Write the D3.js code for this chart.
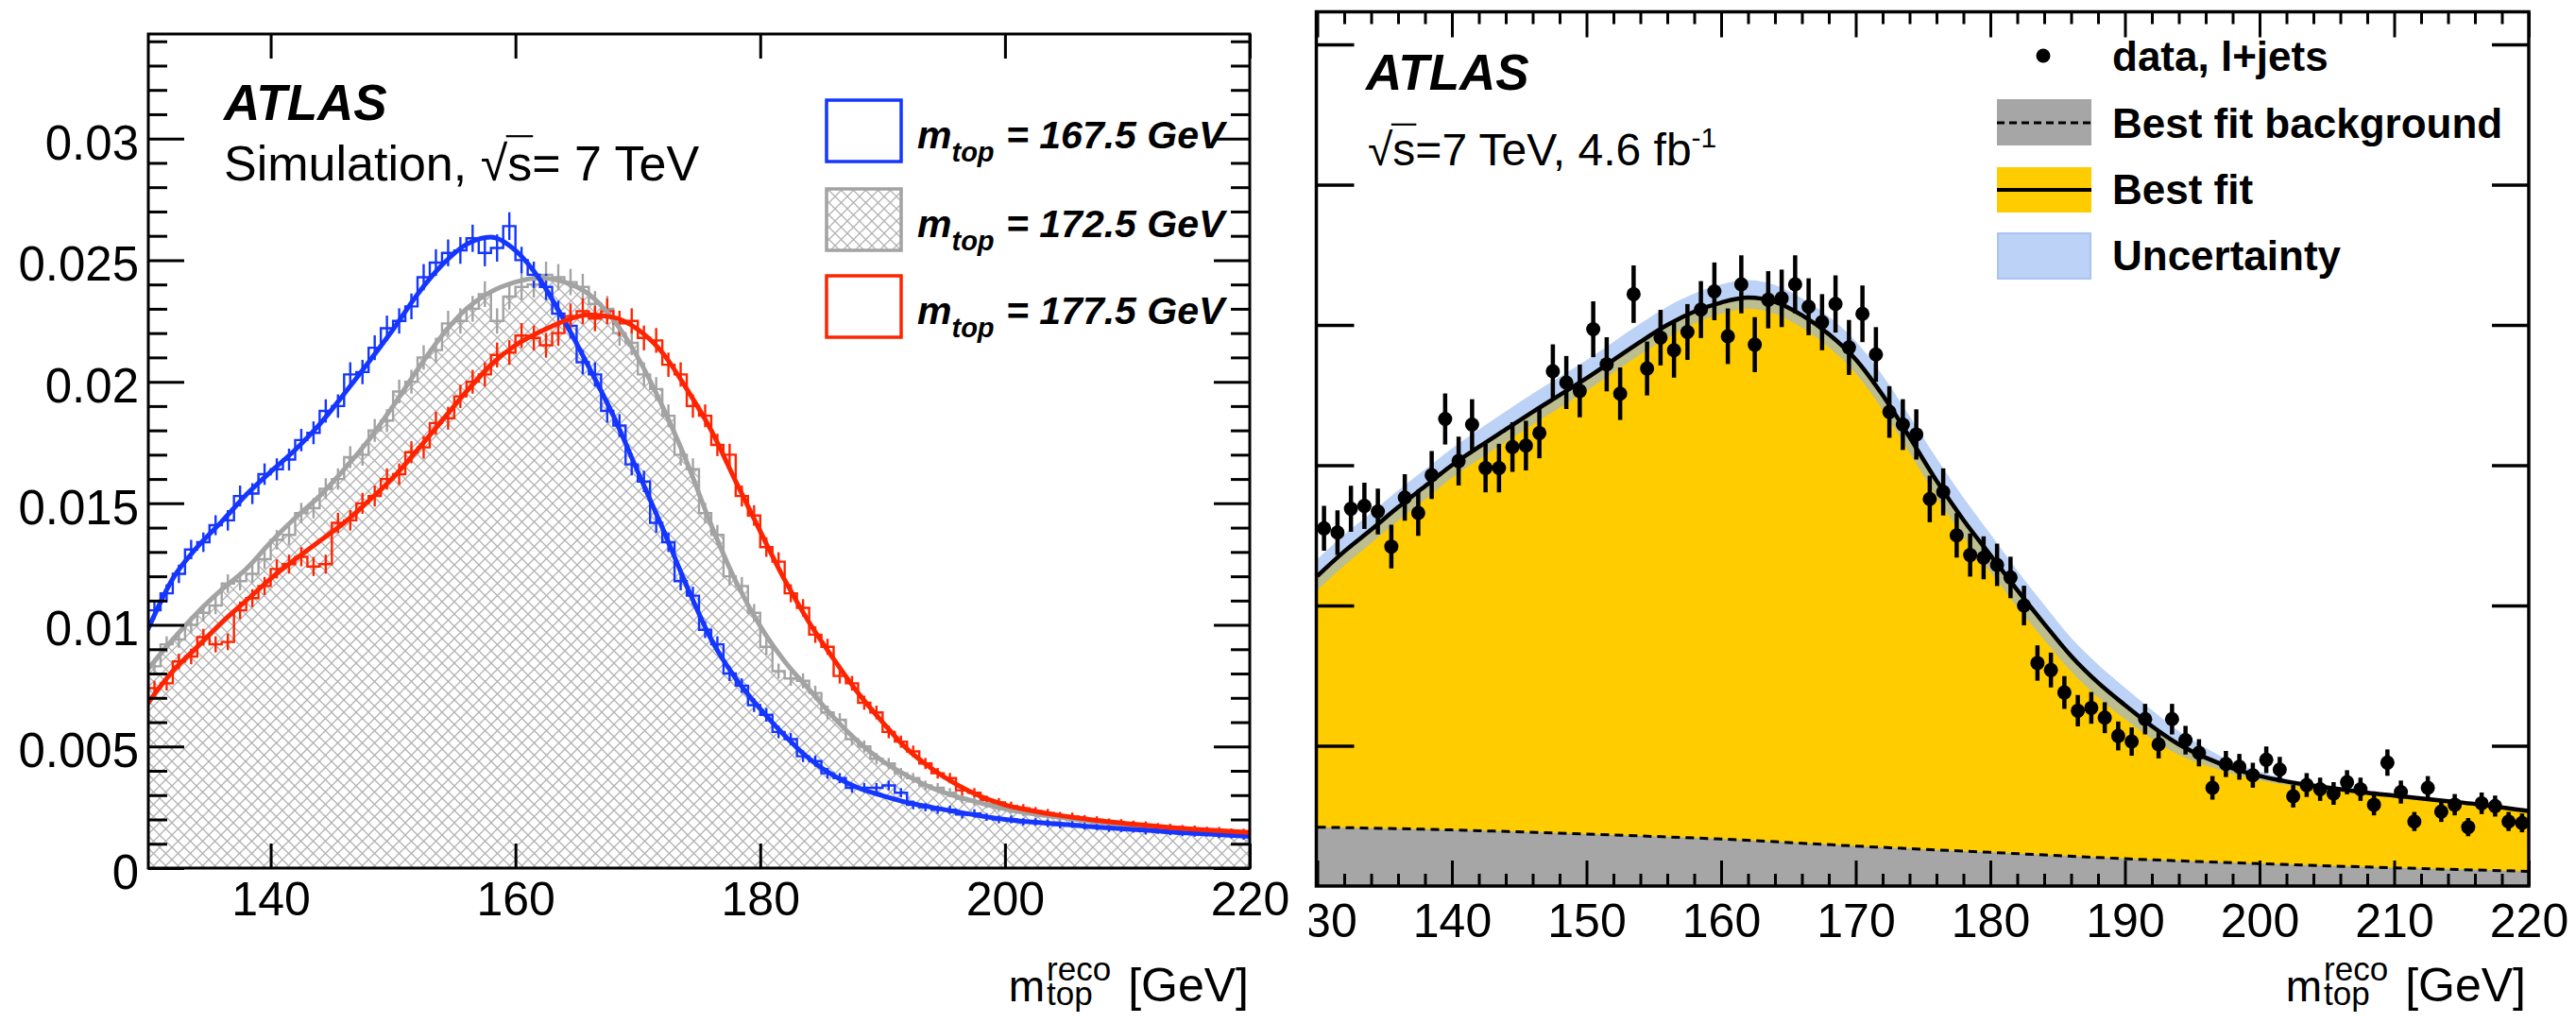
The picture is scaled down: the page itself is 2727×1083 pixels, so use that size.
<!DOCTYPE html>
<html>
<head>
<meta charset="utf-8">
<script src="https://cdn.jsdelivr.net/npm/d3@7"></script>
<style>
  body { margin: 0; background: #fff; }
  svg { display: block; }
  text { font-family: "Liberation Sans", Arial, Helvetica, sans-serif; white-space: pre; }
</style>
</head>
<body>
<svg id="chart" width="2727" height="1083"></svg>
<script>
// ---------------- Binning shared by both panels ----------------
const massBinStart = 130;   // GeV
const massBinWidth = 1;     // GeV
const massRange = [130, 220];

// ---------------- Left panel: simulated templates (normalised, x 10^-3) ----------------
const simYTicks = [0, 5, 10, 15, 20, 25, 30];
const simYTickLabels = ["0", "0.005", "0.01", "0.015", "0.02", "0.025", "0.03"];
const simXTicks = [140, 160, 180, 200, 220];
const simYMax = 34.3;

const hist1675 = [10.6,11.3,12.1,13.1,13.4,14.1,14.3,15.3,15.4,16.2,
  16.4,16.8,17.6,17.9,18.8,19.0,20.3,20.4,21.4,22.2,
  22.5,23.1,24.3,24.9,25.3,25.4,25.9,25.3,25.5,26.4,
  25.0,24.4,23.9,22.8,22.3,20.8,20.3,18.8,18.2,16.6,
  15.9,14.2,13.4,11.8,11.2,9.8,9.2,8.0,7.5,6.7,
  6.3,5.6,5.3,4.6,4.4,3.9,3.7,3.3,3.3,3.3,
  3.4,3.1,2.6,2.5,2.4,2.4,2.2,2.25,2.1,2.0,
  2.0,1.9,1.9,1.84,1.78,1.8,1.72,1.7,1.63,1.62,
  1.6,1.52,1.55,1.48,1.44,1.42,1.43,1.36,1.35,1.3];
const err1675 = [0.36,0.37,0.38,0.40,0.40,0.41,0.42,0.43,0.43,0.44,
  0.45,0.45,0.46,0.47,0.48,0.48,0.50,0.50,0.51,0.52,
  0.52,0.53,0.54,0.55,0.55,0.55,0.56,0.55,0.56,0.57,
  0.55,0.54,0.54,0.53,0.52,0.50,0.50,0.48,0.47,0.45,
  0.44,0.41,0.40,0.38,0.37,0.34,0.33,0.31,0.30,0.28,
  0.28,0.26,0.25,0.24,0.23,0.22,0.21,0.20,0.20,0.20,
  0.20,0.19,0.18,0.17,0.17,0.17,0.16,0.17,0.16,0.16,
  0.16,0.15,0.15,0.15,0.15,0.15,0.14,0.14,0.14,0.14,
  0.14,0.14,0.14,0.13,0.13,0.13,0.13,0.13,0.13,0.13];

const hist1725 = [8.3,9.2,9.4,10.0,10.5,10.8,11.7,11.8,12.1,12.7,
  13.5,13.7,14.6,14.8,15.6,16.0,16.9,17.0,18.0,18.4,
  19.6,20.0,21.0,21.3,22.4,22.5,23.0,23.6,22.5,23.5,
  23.9,24.0,24.4,24.3,24.1,23.9,23.2,23.0,22.0,21.6,
  20.3,19.7,18.6,17.0,16.4,14.6,13.7,12.0,11.6,10.5,
  9.1,8.1,7.8,7.7,7.2,6.4,6.1,5.3,5.0,4.5,
  4.3,3.9,3.7,3.4,3.3,3.1,2.85,2.75,2.65,2.48,
  2.42,2.3,2.24,2.15,2.1,2.02,1.98,1.9,1.86,1.8,
  1.77,1.71,1.69,1.64,1.61,1.55,1.53,1.49,1.46,1.42];
const err1725 = [0.32,0.33,0.34,0.35,0.36,0.36,0.38,0.38,0.38,0.39,
  0.40,0.41,0.42,0.42,0.43,0.44,0.45,0.45,0.47,0.47,
  0.49,0.49,0.50,0.51,0.52,0.52,0.53,0.53,0.52,0.53,
  0.54,0.54,0.54,0.54,0.54,0.54,0.53,0.53,0.52,0.51,
  0.50,0.49,0.47,0.45,0.45,0.42,0.41,0.38,0.37,0.36,
  0.33,0.31,0.31,0.31,0.30,0.28,0.27,0.25,0.25,0.23,
  0.23,0.22,0.21,0.20,0.20,0.19,0.19,0.18,0.18,0.17,
  0.17,0.17,0.16,0.16,0.16,0.16,0.15,0.15,0.15,0.15,
  0.15,0.14,0.14,0.14,0.14,0.14,0.14,0.13,0.13,0.13];

const hist1775 = [7.4,7.6,8.5,8.7,9.5,9.2,9.3,10.6,11.1,11.6,
  12.3,12.5,12.8,12.4,12.5,14.2,14.3,15.0,15.3,16.0,
  16.2,17.1,17.3,18.3,18.5,19.4,20.0,20.3,21.1,21.2,
  21.9,21.8,21.5,22.0,22.7,22.9,22.6,22.9,22.4,22.5,
  21.8,21.7,20.7,20.3,19.0,18.6,17.4,17.0,15.3,14.5,
  13.2,12.6,11.3,10.7,9.6,9.1,7.9,7.6,6.8,6.4,
  5.6,5.2,4.8,4.3,3.9,3.7,3.2,3.1,2.8,2.7,
  2.55,2.46,2.34,2.26,2.15,2.12,2.02,1.98,1.89,1.86,
  1.8,1.77,1.71,1.68,1.63,1.61,1.56,1.55,1.5,1.49];
const err1775 = [0.30,0.30,0.32,0.32,0.34,0.33,0.34,0.36,0.37,0.37,
  0.39,0.39,0.39,0.39,0.39,0.41,0.42,0.43,0.43,0.44,
  0.44,0.45,0.46,0.47,0.47,0.48,0.49,0.50,0.51,0.51,
  0.51,0.51,0.51,0.52,0.52,0.53,0.52,0.53,0.52,0.52,
  0.51,0.51,0.50,0.50,0.48,0.47,0.46,0.45,0.43,0.42,
  0.40,0.39,0.37,0.36,0.34,0.33,0.31,0.30,0.29,0.28,
  0.26,0.25,0.24,0.23,0.22,0.21,0.20,0.19,0.18,0.18,
  0.18,0.17,0.17,0.17,0.16,0.16,0.16,0.15,0.15,0.15,
  0.15,0.15,0.14,0.14,0.14,0.14,0.14,0.14,0.13,0.13];

// Fitted template shapes, sampled every 2 GeV
const fitMass = [130,132,134,136,138,140,142,144,146,148,
  150,152,154,156,158,160,162,164,166,168,
  170,172,174,176,178,180,182,184,186,188,
  190,192,194,196,198,200,202,204,206,208,
  210,212,214,216,218,220];
const fit1675 = [9.85,11.9,13.2,14.25,15.35,16.3,17.2,18.25,19.5,20.8,
  22.15,23.6,24.8,25.65,25.95,25.4,24.2,22.5,20.6,18.6,
  16.3,14.0,11.6,9.4,7.8,6.55,5.45,4.5,3.8,3.3,
  2.98,2.7,2.5,2.32,2.15,2.0,1.9,1.83,1.75,1.67,
  1.6,1.54,1.47,1.42,1.36,1.3];
const fit1725 = [8.2,9.4,10.5,11.45,12.3,13.4,14.4,15.3,16.4,17.6,
  19.0,20.5,21.9,23.0,23.7,24.1,24.27,24.1,23.6,22.55,
  21.0,19.0,16.7,14.1,11.8,9.95,8.5,7.35,6.2,5.2,
  4.4,3.8,3.3,2.95,2.68,2.44,2.25,2.12,1.99,1.88,
  1.78,1.7,1.62,1.54,1.47,1.4];
const fit1775 = [6.8,8.1,9.1,10.1,11.0,11.9,12.7,13.45,14.2,15.1,
  16.05,17.2,18.4,19.6,20.7,21.5,22.05,22.5,22.75,22.65,
  22.15,21.2,19.7,18.0,15.9,13.85,11.85,10.1,8.6,7.2,
  6.0,4.9,4.1,3.45,2.95,2.6,2.38,2.2,2.06,1.93,
  1.83,1.74,1.65,1.58,1.52,1.47];

const templateLabels = ["167.5", "172.5", "177.5"];

// ---------------- Right panel: data with best fit ----------------
const dataXTicks = [130,140,150,160,170,180,190,200,210,220];
const dataXMinor = [132,134,136,138,142,144,146,148,152,154,156,158,162,164,166,168,172,174,176,178,
  182,184,186,188,192,194,196,198,202,204,206,208,212,214,216,218];
const dataYTicks = [100,200,300,400,500,600];
const dataYMax = 623.3;

const dataCounts = [255,252,269,271,267,242,277,266,293,333,
  303,329,298,298,313,314,323,367,359,353,
  397,372,351,422,369,391,382,395,411,424,
  392,429,386,418,419,429,413,402,415,384,
  408,379,338,329,322,276,281,250,236,234,
  229,220,200,159,154,138,125,127,120,107,
  103,119,101,119,104,95,70,87,85,79,
  90,83,64,72,69,66,74,69,58,88,
  67,46,70,53,58,42,59,57,46,45];
const dataErrors = [16.0,15.9,16.4,16.5,16.3,15.6,16.6,16.3,17.1,18.2,
  17.4,18.1,17.3,17.3,17.7,17.7,18.0,19.2,18.9,18.8,
  19.9,19.3,18.7,20.5,19.2,19.8,19.5,19.9,20.3,20.6,
  19.8,20.7,19.6,20.4,20.5,20.7,20.3,20.0,20.4,19.6,
  20.2,19.5,18.4,18.1,17.9,16.6,16.8,15.8,15.4,15.3,
  15.1,14.8,14.1,12.6,12.4,11.7,11.2,11.3,11.0,10.3,
  10.1,10.9,10.0,10.9,10.2,9.7,8.4,9.3,9.2,8.9,
  9.5,9.1,8.0,8.5,8.3,8.1,8.6,8.3,7.6,9.4,
  8.2,6.8,8.4,7.3,7.6,6.5,7.7,7.5,6.8,6.7];

const bestFit = [221,238.5,254,270,285,300,313,325.5,338,350,
  362,375,388,400,409.5,416,419.5,416.5,407,393.5,
  375.5,350,320,289,261,236,211,187,164,145,
  129,114,101,91.5,84,78.5,74.5,71.5,69,66.5,
  64.5,62.5,60.5,58.5,56,53.5];
const bandUp = [12,12,12,12,12,12,12.5,13,13,13,
  13,13,13,13,13,13,12.5,12,12,12.5,
  13,14,15,16,16,15,14,13.5,13,13,
  12.5,11.5,9.5,7,4.5,3,2,1.5,1.2,1.2,
  1,1,1,1,1,1];
const bandDown = [10,10,9.5,9.5,9.5,9,9,9,9,9,
  9,9,9,9,8.5,8,8,8.5,9,9.5,
  10,10.5,11,11.5,12,12,12,11.5,11,10.5,
  10,9,7.5,5.5,4,3,2.5,2,1.5,1.5,
  1.5,1.5,1.5,1.5,1.5,1.5];
const bkgMass = [130,140,150,160,170,180,190,200,210,220];
const bkgFit = [42,40,37,33.5,28.5,24,19.5,16,13,10.5];

const legendRight = ["data, l+jets", "Best fit background", "Best fit", "Uncertainty"];

// ---------------- Drawing ----------------
const svg = d3.select("#chart");
const defs = svg.append("defs");

const hatch = defs.append("pattern").attr("id", "crosshatch")
  .attr("patternUnits", "userSpaceOnUse").attr("width", 13).attr("height", 13);
hatch.append("path").attr("d", "M0,0L13,13M13,0L0,13")
  .attr("stroke", "#b2b2b2").attr("stroke-width", 1.3).attr("fill", "none");

const BLUE = "#1436ff", RED = "#ff2400", GREY = "#a3a3a3", YELLOW = "#ffcc00", BKG = "#a6a6a6";

function styleTicks(sel, width) {
  sel.select(".domain").remove();
  sel.selectAll(".tick line").attr("stroke", "#000").attr("stroke-width", width);
  sel.attr("font-family", null).attr("font-size", null);
}

function textWidth(g, str, size, weight, style) {
  const t = g.append("text").attr("font-size", size)
    .attr("font-weight", weight || "normal").attr("font-style", style || "normal").text(str);
  const w = t.node().getComputedTextLength();
  t.remove();
  return w;
}

// One text element made of consecutive runs (tspans)
function richText(g, x, y, parts) {
  const t = g.append("text").attr("x", x).attr("y", y).attr("fill", "#000");
  let cx = x;
  const out = [];
  parts.forEach(p => {
    const w = textWidth(g, p.t, p.size, p.weight, p.style);
    t.append("tspan").attr("x", cx).attr("y", y + (p.dy || 0))
      .attr("font-size", p.size)
      .attr("font-weight", p.weight || "normal")
      .attr("font-style", p.style || "normal").text(p.t);
    out.push({ x: cx, w });
    cx += w + (p.gap || 0);
  });
  return out;
}

// radical sign overline spanning the "s"
function sqrtBar(g, rad, s, baseline, size) {
  g.append("line")
    .attr("x1", rad.x + rad.w - 1.5).attr("x2", s.x + s.w + 1)
    .attr("y1", baseline - size * 0.9).attr("y2", baseline - size * 0.9)
    .attr("stroke", "#000").attr("stroke-width", 2.2);
}

// m_top^reco [GeV], right-aligned on xRight
function massTitle(g, xRight, base) {
  const wG = textWidth(g, "[GeV]", 50);
  const wS = Math.max(textWidth(g, "reco", 35), textWidth(g, "top", 35));
  const wM = textWidth(g, "m", 46);
  const sx = xRight - wG - 18 - wS;
  const t = g.append("text").attr("fill", "#000");
  t.append("tspan").attr("x", sx - 2 - wM).attr("y", base).attr("font-size", 46).text("m");
  t.append("tspan").attr("x", sx).attr("y", base - 22).attr("font-size", 35).text("reco");
  t.append("tspan").attr("x", sx).attr("y", base + 4).attr("font-size", 35).text("top");
  t.append("tspan").attr("x", xRight - wG).attr("y", base).attr("font-size", 50).text("[GeV]");
}

// ======== LEFT PANEL ========
const xL = d3.scaleLinear().domain(massRange).range([157, 1323]);
const yL = d3.scaleLinear().domain([0, simYMax]).range([919, 36]);

defs.append("clipPath").attr("id", "clipL").append("rect")
  .attr("x", xL.range()[0]).attr("y", yL.range()[1])
  .attr("width", xL.range()[1] - xL.range()[0]).attr("height", yL.range()[0] - yL.range()[1]);

const gL = svg.append("g");
const plotL = gL.append("g").attr("clip-path", "url(#clipL)");

function stepPoints(vals) {
  const pts = vals.map((v, i) => [massBinStart + i * massBinWidth, v]);
  pts.push([massBinStart + vals.length * massBinWidth, vals[vals.length - 1]]);
  return pts;
}
const stepLine = d3.line().x(d => xL(d[0])).y(d => yL(d[1])).curve(d3.curveStepAfter);
const stepArea = d3.area().x(d => xL(d[0])).y0(yL(0)).y1(d => yL(d[1])).curve(d3.curveStepAfter);
const fitLineL = d3.line().x((d, i) => xL(fitMass[i])).y(d => yL(d)).curve(d3.curveMonotoneX);

// hatched nominal template
plotL.append("path").attr("d", stepArea(stepPoints(hist1725))).attr("fill", "url(#crosshatch)");

const templates = [
  { vals: hist1725, errs: err1725, fit: fit1725, color: GREY },
  { vals: hist1675, errs: err1675, fit: fit1675, color: BLUE },
  { vals: hist1775, errs: err1775, fit: fit1775, color: RED }
];
templates.forEach(s => {
  plotL.append("path").attr("d", stepLine(stepPoints(s.vals)))
    .attr("fill", "none").attr("stroke", s.color).attr("stroke-width", 2.4);
  plotL.append("g").selectAll("line").data(s.vals).join("line")
    .attr("x1", (d, i) => xL(massBinStart + (i + 0.5) * massBinWidth))
    .attr("x2", (d, i) => xL(massBinStart + (i + 0.5) * massBinWidth))
    .attr("y1", (d, i) => yL(d - s.errs[i]))
    .attr("y2", (d, i) => yL(d + s.errs[i]))
    .attr("stroke", s.color).attr("stroke-width", 2.4);
});
templates.forEach(s => {
  plotL.append("path").attr("d", fitLineL(s.fit))
    .attr("fill", "none").attr("stroke", s.color).attr("stroke-width", 5)
    .attr("stroke-linecap", "round");
});

// axes & frame
const minorL = d3.range(0, simYMax, 1).filter(v => v % 5 !== 0);
styleTicks(gL.append("g").attr("transform", `translate(${xL(130)},0)`)
  .call(d3.axisLeft(yL).tickValues(minorL).tickSize(-20).tickSizeOuter(0).tickFormat("")), 3);
styleTicks(gL.append("g").attr("transform", `translate(${xL(220)},0)`)
  .call(d3.axisRight(yL).tickValues(minorL).tickSize(-20).tickSizeOuter(0).tickFormat("")), 3);
const yAxL = gL.append("g").attr("transform", `translate(${xL(130)},0)`)
  .call(d3.axisLeft(yL).tickValues(simYTicks).tickSize(-38).tickSizeOuter(0).tickPadding(10)
    .tickFormat((d, i) => simYTickLabels[i]));
styleTicks(yAxL, 3);
yAxL.selectAll(".tick text").attr("font-size", 51).attr("dy", "0.42em").attr("fill", "#000");
styleTicks(gL.append("g").attr("transform", `translate(${xL(220)},0)`)
  .call(d3.axisRight(yL).tickValues(simYTicks).tickSize(-38).tickSizeOuter(0).tickFormat("")), 3);
const xAxL = gL.append("g").attr("transform", `translate(0,${yL(0)})`)
  .call(d3.axisBottom(xL).tickValues(simXTicks).tickSize(-26).tickSizeOuter(0).tickPadding(14));
styleTicks(xAxL, 3);
xAxL.selectAll(".tick text").attr("font-size", 50).attr("fill", "#000");
styleTicks(gL.append("g").attr("transform", `translate(0,${yL(simYMax)})`)
  .call(d3.axisTop(xL).tickValues(simXTicks).tickSize(-26).tickSizeOuter(0).tickFormat("")), 3);
gL.append("rect").attr("x", xL(130)).attr("y", yL(simYMax))
  .attr("width", xL(220) - xL(130)).attr("height", yL(0) - yL(simYMax))
  .attr("fill", "none").attr("stroke", "#000").attr("stroke-width", 3);

massTitle(gL, 1322, 1060);

// labels
gL.append("text").attr("x", 237).attr("y", 127).attr("font-size", 53)
  .attr("font-weight", "bold").attr("font-style", "italic").text("ATLAS");
{
  const r = richText(gL, 237, 191, [
    { t: "Simulation, ", size: 52 }, { t: "√", size: 52 }, { t: "s", size: 52 }, { t: "= 7 TeV", size: 52 }
  ]);
  sqrtBar(gL, r[1], r[2], 191, 52);
}

// legend
const legRows = [
  { key: templateLabels[0], color: BLUE, fill: "none", y: 106 },
  { key: templateLabels[1], color: GREY, fill: "url(#crosshatch)", y: 200 },
  { key: templateLabels[2], color: RED, fill: "none", y: 292 }
];
legRows.forEach(r => {
  gL.append("rect").attr("x", 875).attr("y", r.y).attr("width", 79).attr("height", 65)
    .attr("fill", r.fill).attr("stroke", r.color).attr("stroke-width", 3.5);
  richText(gL, 971, r.y + 51, [
    { t: "m", size: 41, weight: "bold", style: "italic" },
    { t: "top", size: 29, weight: "bold", style: "italic", dy: 14, gap: 1 },
    { t: " = " + r.key + " GeV", size: 41, weight: "bold", style: "italic" }
  ]);
});

// ======== RIGHT PANEL ========
const xR = d3.scaleLinear().domain(massRange).range([1394.5, 2677]);
const yR = d3.scaleLinear().domain([0, dataYMax]).range([938, 12.5]);

defs.append("clipPath").attr("id", "clipPanelR").append("rect")
  .attr("x", 1386).attr("y", 0).attr("width", 2727 - 1386).attr("height", 1083);
defs.append("clipPath").attr("id", "clipR").append("rect")
  .attr("x", xR(130)).attr("y", yR(dataYMax))
  .attr("width", xR(220) - xR(130)).attr("height", yR(0) - yR(dataYMax));

const gR = svg.append("g").attr("clip-path", "url(#clipPanelR)");
const plotR = gR.append("g").attr("clip-path", "url(#clipR)");

const curve = d3.curveMonotoneX;
plotR.append("path")
  .attr("d", d3.area().x((d, i) => xR(fitMass[i])).y0(yR(0)).y1(d => yR(d)).curve(curve)(bestFit))
  .attr("fill", YELLOW);
plotR.append("path")
  .attr("d", d3.area().x((d, i) => xR(bkgMass[i])).y0(yR(0)).y1(d => yR(d)).curve(curve)(bkgFit))
  .attr("fill", BKG);
plotR.append("path")
  .attr("d", d3.area().x((d, i) => xR(fitMass[i]))
    .y0((d, i) => yR(d - bandDown[i])).y1((d, i) => yR(d + bandUp[i])).curve(curve)(bestFit))
  .attr("fill", "rgb(143,180,240)").attr("fill-opacity", 0.6);
plotR.append("path")
  .attr("d", d3.line().x((d, i) => xR(bkgMass[i])).y(d => yR(d)).curve(curve)(bkgFit))
  .attr("fill", "none").attr("stroke", "#000").attr("stroke-width", 3).attr("stroke-dasharray", "9,6");
plotR.append("path")
  .attr("d", d3.line().x((d, i) => xR(fitMass[i])).y(d => yR(d)).curve(curve)(bestFit))
  .attr("fill", "none").attr("stroke", "#000").attr("stroke-width", 4.5);

const pts = plotR.append("g");
pts.selectAll("line").data(dataCounts).join("line")
  .attr("x1", (d, i) => xR(massBinStart + (i + 0.5) * massBinWidth))
  .attr("x2", (d, i) => xR(massBinStart + (i + 0.5) * massBinWidth))
  .attr("y1", (d, i) => yR(d - dataErrors[i]))
  .attr("y2", (d, i) => yR(d + dataErrors[i]))
  .attr("stroke", "#000").attr("stroke-width", 4.5);
pts.selectAll("circle").data(dataCounts).join("circle")
  .attr("cx", (d, i) => xR(massBinStart + (i + 0.5) * massBinWidth))
  .attr("cy", d => yR(d)).attr("r", 7.5).attr("fill", "#000");

// axes & frame
styleTicks(gR.append("g").attr("transform", `translate(0,${yR(0)})`)
  .call(d3.axisBottom(xR).tickValues(dataXMinor).tickSize(-13).tickSizeOuter(0).tickFormat("")), 3);
styleTicks(gR.append("g").attr("transform", `translate(0,${yR(dataYMax)})`)
  .call(d3.axisTop(xR).tickValues(dataXMinor).tickSize(-13).tickSizeOuter(0).tickFormat("")), 3);
const xAxR = gR.append("g").attr("transform", `translate(0,${yR(0)})`)
  .call(d3.axisBottom(xR).tickValues(dataXTicks).tickSize(-27).tickSizeOuter(0).tickPadding(18.5));
styleTicks(xAxR, 3);
xAxR.selectAll(".tick text").attr("font-size", 50).attr("fill", "#000");
styleTicks(gR.append("g").attr("transform", `translate(0,${yR(dataYMax)})`)
  .call(d3.axisTop(xR).tickValues(dataXTicks).tickSize(-27).tickSizeOuter(0).tickFormat("")), 3);
styleTicks(gR.append("g").attr("transform", `translate(${xR(130)},0)`)
  .call(d3.axisLeft(yR).tickValues(dataYTicks).tickSize(-39).tickSizeOuter(0).tickFormat("")), 3.5);
styleTicks(gR.append("g").attr("transform", `translate(${xR(220)},0)`)
  .call(d3.axisRight(yR).tickValues(dataYTicks).tickSize(-39).tickSizeOuter(0).tickFormat("")), 3.5);
gR.append("rect").attr("x", xR(130) - 1).attr("y", yR(dataYMax))
  .attr("width", xR(220) - xR(130) + 1).attr("height", yR(0) - yR(dataYMax))
  .attr("fill", "none").attr("stroke", "#000").attr("stroke-width", 3.5);

massTitle(gR, 2674, 1060);

gR.append("text").attr("x", 1446).attr("y", 95).attr("font-size", 53)
  .attr("font-weight", "bold").attr("font-style", "italic").text("ATLAS");
{
  const r = richText(gR, 1448, 175, [
    { t: "√", size: 48 }, { t: "s", size: 48 }, { t: "=7 TeV, 4.6 fb", size: 48 },
    { t: "-1", size: 30, dy: -19 }
  ]);
  sqrtBar(gR, r[0], r[1], 175, 48);
}

// legend
gR.append("circle").attr("cx", 2163).attr("cy", 59).attr("r", 7.5).attr("fill", "#000");
gR.append("rect").attr("x", 2114).attr("y", 105).attr("width", 100).attr("height", 49).attr("fill", BKG);
gR.append("line").attr("x1", 2114).attr("x2", 2214).attr("y1", 130).attr("y2", 130)
  .attr("stroke", "#000").attr("stroke-width", 3).attr("stroke-dasharray", "8,5");
gR.append("rect").attr("x", 2114).attr("y", 177).attr("width", 100).attr("height", 48).attr("fill", YELLOW);
gR.append("line").attr("x1", 2114).attr("x2", 2214).attr("y1", 201).attr("y2", 201)
  .attr("stroke", "#000").attr("stroke-width", 4);
gR.append("rect").attr("x", 2115).attr("y", 247).attr("width", 98).attr("height", 48)
  .attr("fill", "#bcd2f7").attr("stroke", "#a9c3f2").attr("stroke-width", 2);
[75, 146, 216, 286].forEach((y, i) => {
  gR.append("text").attr("x", 2236).attr("y", y).attr("font-size", 44)
    .attr("font-weight", "bold").text(legendRight[i]);
});
</script>
</body>
</html>
